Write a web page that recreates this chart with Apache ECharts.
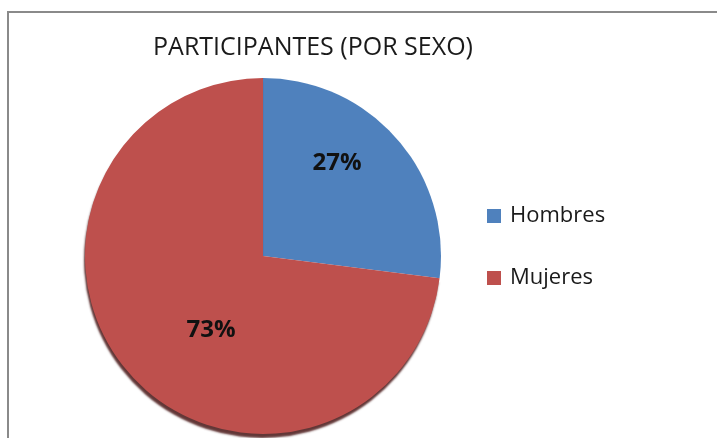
<!DOCTYPE html>
<html>
<head>
<meta charset="utf-8">
<script src="https://cdn.jsdelivr.net/npm/echarts@6/dist/echarts.min.js"></script>
<style>
  html, body { margin: 0; padding: 0; background: #fff; }
  #main { width: 717px; height: 438px; }
</style>
</head>
<body>
<div id="main"></div>
<script>
  const titulo = 'PARTICIPANTES (POR SEXO)'
  const categorias = ['Hombres', 'Mujeres']
  const valores = [27, 73]
  const colores = ['#4F81BD', '#BE504D']
  // desplazamiento de las etiquetas respecto a la posicion 'inside'
  const ajusteEtiquetas = [[5, -32], [17, 13]]

  const chart = echarts.init(document.getElementById('main'))
  const option = {
    backgroundColor: '#fff',
    animation: false,
    graphic: [{
      type: 'rect',
      shape: { x: 8, y: 12, width: 740, height: 460 },
      style: { fill: 'none', stroke: '#8a8a8a', lineWidth: 2 },
      silent: true
    }],
    title: {
      text: titulo,
      left: 308,
      top: 30,
      textAlign: 'center',
      textStyle: {
        fontFamily: 'Open Sans',
        fontSize: 25,
        fontWeight: 'normal',
        color: '#1a1a1a'
      }
    },
    legend: {
      orient: 'vertical',
      left: 482,
      top: 200,
      itemWidth: 14,
      itemHeight: 14,
      itemGap: 40,
      icon: 'rect',
      data: categorias,
      textStyle: {
        fontFamily: 'Open Sans',
        fontSize: 22,
        color: '#1a1a1a',
        padding: [0, 0, 0, 4]
      }
    },
    series: [{
      type: 'pie',
      center: [263, 256],
      radius: 178,
      startAngle: 90,
      clockwise: true,
      silent: true,
      label: {
        show: true,
        position: 'inside',
        formatter: '{d}%',
        fontFamily: 'Open Sans',
        fontSize: 24,
        fontWeight: 'bold',
        color: '#111'
      },
      labelLine: { show: false },
      labelLayout: function (params) {
        const a = ajusteEtiquetas[params.dataIndex]
        return { dx: a[0], dy: a[1] }
      },
      data: categorias.map((nombre, i) => ({
        name: nombre,
        value: valores[i],
        itemStyle: {
          color: colores[i],
          borderWidth: 0,
          shadowColor: i === 1 ? 'rgba(70,20,20,0.85)' : 'rgba(0,0,0,0)',
          shadowBlur: 2,
          shadowOffsetY: 4,
          shadowOffsetX: -1
        }
      }))
    }]
  }
  chart.setOption(option)
</script>
</body>
</html>
